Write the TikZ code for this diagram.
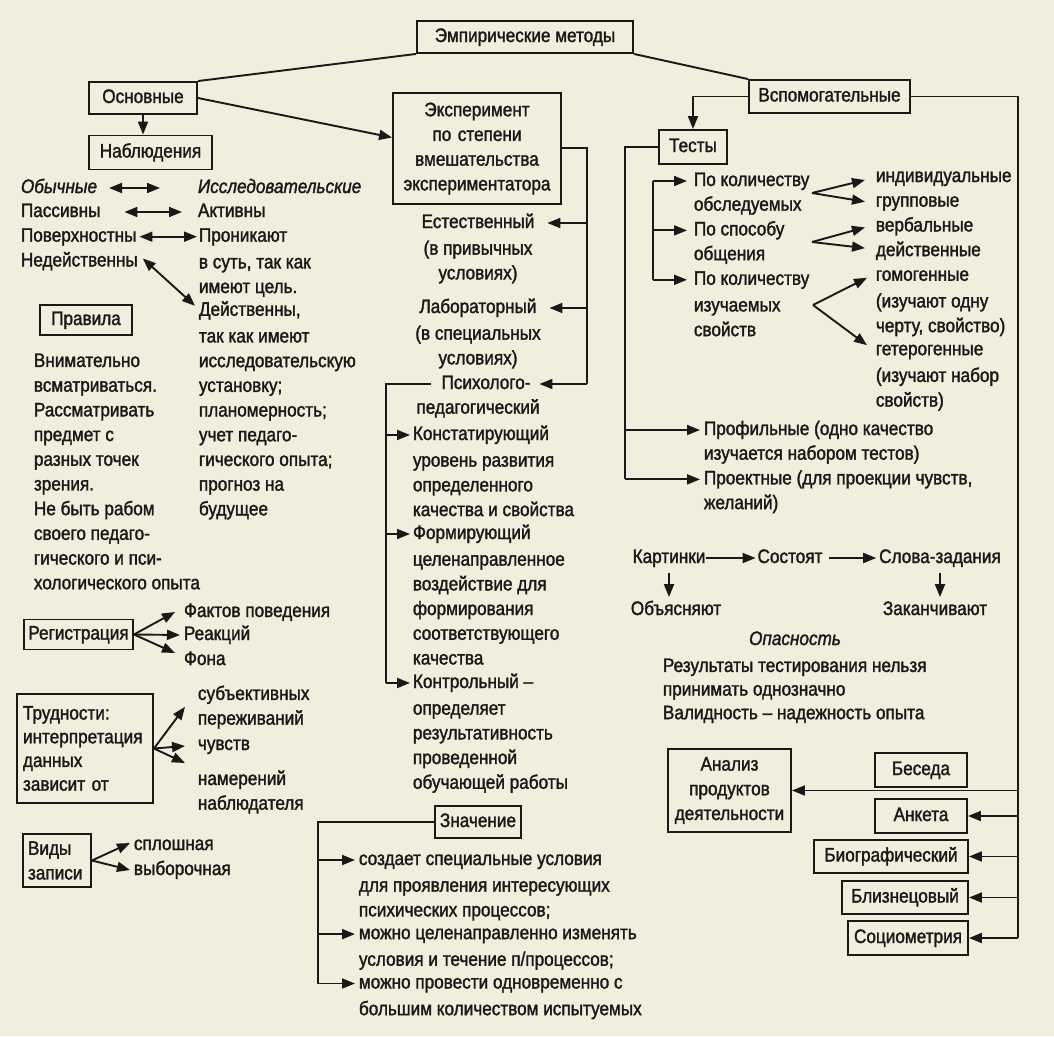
\documentclass[tikz,border=0pt]{standalone}
\usepackage{fontspec}
\setmainfont{Liberation Sans}[FakeStretch=0.88,FakeBold=1.6]
\usetikzlibrary{arrows.meta,calc}
\definecolor{bg}{RGB}{242,238,221}
\definecolor{ink}{RGB}{25,25,25}
\newcommand\st{\rule{0pt}{15pt}}
\newcommand\fs{\fontsize{19.5}{24.7}\selectfont}
\begin{document}
\begin{tikzpicture}[x=1pt,y=-1pt,line width=1.9pt,color=ink,font=\fs,
  lt/.style={inner sep=0pt,text height=14pt,text depth=4pt,anchor=west},
  ct/.style={inner sep=0pt,text height=14pt,text depth=4pt},
  blk/.style={inner sep=0pt,align=left,anchor=north west},
  cblk/.style={inner sep=0pt,align=center,anchor=north},
  box/.style={draw,inner sep=0pt,text height=14pt,text depth=4pt},
  mbox/.style={draw,inner sep=0pt},
  arr/.style={-{Triangle[length=13pt,width=10pt]}},
  darr/.style={{Triangle[length=13pt,width=10pt]}-{Triangle[length=13pt,width=10pt]}}]
\fill[bg] (0,0) rectangle (1054,1036);
\useasboundingbox (0,0) rectangle (1054,1036);

% boxes
\node[box,minimum width=216pt,minimum height=32pt] (emp) at (525,37) {Эмпирические методы};
\node[box,minimum width=108pt,minimum height=32pt] (osn) at (143,98) {Основные};
\node[box,minimum width=123pt,minimum height=34pt] (nabl) at (150.5,152.5) {Наблюдения};
\node[mbox,align=center,text width=160pt,minimum width=168pt,minimum height=111pt] (exp) at (477,148.5) {Эксперимент\\по степени\\вмешательства\\экспериментатора};
\node[box,minimum width=161pt,minimum height=33pt] (vsp) at (829.5,96.5) {Вспомогательные};
\node[box,minimum width=68pt,minimum height=34pt] (test) at (693,147) {Тесты};
\node[box,minimum width=92pt,minimum height=30pt] (prav) at (86,320) {Правила};
\node[box,minimum width=109pt,minimum height=30pt] (reg) at (78.5,634.5) {Регистрация};
\node[mbox,align=left,text width=124pt,minimum width=136pt,minimum height=109pt,font=\fontsize{19.5}{23.7}\selectfont] (trud) at (85,748.5) {Трудности:\\интерпретация\\данных\\зависит от};
\node[mbox,align=left,text width=58pt,minimum width=68pt,minimum height=53pt] (vidy) at (57,860.5) {Виды\\записи};
\node[box,minimum width=86pt,minimum height=32pt] (znach) at (478,822) {Значение};
\node[mbox,align=center,text width=115pt,minimum width=123pt,minimum height=83pt] (anal) at (729.5,790.5) {Анализ\\продуктов\\деятельности};
\node[box,minimum width=92pt,minimum height=34pt] (bes) at (921,770) {Беседа};
\node[box,minimum width=92pt,minimum height=34pt] (ank) at (921,816) {Анкета};
\node[box,minimum width=154pt,minimum height=33pt] (bio) at (891,856.5) {Биографический};
\node[box,minimum width=126pt,minimum height=33pt] (bliz) at (905,897.5) {Близнецовый};
\node[box,minimum width=120pt,minimum height=34pt] (soc) at (908,938) {Социометрия};

% observation texts
\node[lt] (obych) at (20,188) {\itshape Обычные};
\node[lt] (issl) at (197,188) {\itshape Исследовательские};
\node[lt] (pas) at (20,212) {Пассивны};
\node[lt] (akt) at (197,212) {Активны};
\node[lt] (pov) at (20,236.7) {Поверхностны};
\node[lt] (pron) at (198,236.7) {Проникают};
\node[lt] (ned) at (20,261.4) {Недейственны};
\node[blk] (vsut) at (198,252.4) {\st в суть, так как\\имеют цель.};
\node[lt] (dst) at (198,310.8) {Действенны,};
\node[blk] (dst2) at (198,326.5) {\st так как имеют\\исследовательскую\\установку;\\планомерность;\\учет педаго-\\гического опыта;\\прогноз на\\будущее};
\node[blk] (rules) at (33,351) {\st Внимательно\\всматриваться.\\Рассматривать\\предмет с\\разных точек\\зрения.\\Не быть рабом\\своего педаго-\\гического и пси-\\хологического опыта};

% experiment texts
\node[ct] (est) at (478,223) {Естественный};
\node[cblk] (est2) at (478,238.7) {\st(в привычных\\условиях)};
\node[ct] (lab) at (478,308) {Лабораторный};
\node[cblk] (lab2) at (478,323.7) {\st(в специальных\\условиях)};
\node[ct] (psy) at (486,384) {Психолого-};
\node[ct] (psy2) at (478,408.7) {педагогический};
\node[lt] (konst) at (412,435) {Констатирующий};
\node[blk] (konst2) at (412,450.7) {\st уровень развития\\определенного\\качества и свойства};
\node[lt] (form) at (412,534) {Формирующий};
\node[blk] (form2) at (412,549.7) {\st целенаправленное\\воздействие для\\формирования\\соответствующего\\качества};
\node[lt] (kontr) at (412,683) {Контрольный –};
\node[blk] (kontr2) at (412,698.7) {\st определяет\\результативность\\проведенной\\обучающей работы};

% tests texts
\node[lt] (pk1) at (693,181) {По количеству};
\node[lt] (pk1b) at (693,205.7) {обследуемых};
\node[lt] (ps) at (693,230.4) {По способу};
\node[lt] (psb) at (693,255.1) {общения};
\node[lt] (pk2) at (693,279.8) {По количеству};
\node[blk] (pk2b) at (693,295.5) {\st изучаемых\\свойств};
\node[lt] (ind) at (875,177) {индивидуальные};
\node[lt] (grp) at (875,201.7) {групповые};
\node[lt] (verb) at (875,226.4) {вербальные};
\node[lt] (deys) at (875,251.1) {действенные};
\node[lt] (gom) at (875,275.8) {гомогенные};
\node[blk] (gom2) at (875,291.5) {\st(изучают одну\\черту, свойство)};
\node[lt] (get) at (875,350.2) {гетерогенные};
\node[blk] (get2) at (875,365.9) {\st(изучают набор\\свойств)};
\node[lt] (prof) at (703,430) {Профильные (одно качество};
\node[lt] (prof2) at (703,454.7) {изучается набором тестов)};
\node[lt] (proj) at (703,479.4) {Проектные (для проекции чувств,};
\node[lt] (proj2) at (703,504.1) {желаний)};

\node[ct] (kart) at (669,558) {Картинки};
\node[ct] (sost) at (790,558) {Состоят};
\node[ct] (slova) at (940,558) {Слова-задания};
\node[ct] (obj) at (676,610) {Объясняют};
\node[ct] (zak) at (935,610) {Заканчивают};
\node[ct] (opas) at (795,640) {\itshape Опасность};
\node[blk,font=\fontsize{19.5}{23.6}\selectfont] (res) at (662,656) {\st Результаты тестирования нельзя\\принимать однозначно\\Валидность – надежность опыта};

% left lower texts
\node[lt] (fakt) at (183,612) {Фактов поведения};
\node[lt] (reak) at (183,635) {Реакций};
\node[lt] (fona) at (183,660) {Фона};
\node[blk] (subj) at (197,684) {\st субъективных\\переживаний};
\node[lt] (chuv) at (197,745) {чувств};
\node[blk] (nam) at (197,769) {\st намерений\\наблюдателя};
\node[lt] (spl) at (133,845) {сплошная};
\node[lt] (vyb) at (133,870) {выборочная};

% znachenie texts
\node[lt] (z1) at (358,860) {создает специальные условия};
\node[blk] (z1b) at (358,875.7) {\st для проявления интересующих\\психических процессов;};
\node[lt] (z2) at (358,934.1) {можно целенаправленно изменять};
\node[blk] (z2b) at (358,949.8) {\st условия и течение п/процессов;};
\node[lt] (z3) at (358,983.5) {можно провести одновременно с};
\node[blk] (z3b) at (358,999.2) {\st большим количеством испытуемых};

% connectors top
\draw (emp.south west) -- (osn.north east);
\draw (emp.south east) -- (vsp.north west);
\draw[arr] (osn.south) -- (osn.south |- nabl.north);
\draw[arr] (osn.east) -- ($(exp.west)+(0,-11)$);

% experiment bracket
\coordinate (eb1) at (587,148);
\coordinate (eb2) at (587,384);
\draw (exp.east |- eb1) -- (eb1) -- (eb2);
\draw[arr,shorten >=12pt] (eb1 |- est) -- (est.east);
\draw[arr,shorten >=12pt] (eb1 |- lab) -- (lab.east);
\draw[arr,shorten >=8pt] (eb2) -- (psy.east);

% psycho-pedagogical bracket
\coordinate (pb1) at (386,384);
\coordinate (pb2) at (386,683);
\draw ($(psy.west)+(-10,0)$) -- (pb1) -- (pb2);
\draw[arr,shorten >=2pt] (pb1 |- konst) -- (konst.west);
\draw[arr,shorten >=2pt] (pb1 |- form) -- (form.west);
\draw[arr,shorten >=2pt] (pb2) -- (kontr.west);

% auxiliary
\draw[arr] (vsp.west) -| (test.north);
\coordinate (rb) at (1018,938);
\draw (vsp.east) -| (rb);
\draw[arr] (rb |- anal) -- (anal.east);
\draw[arr] (rb |- ank) -- (ank.east);
\draw[arr] (rb |- bio) -- (bio.east);
\draw[arr] (rb |- bliz) -- (bliz.east);
\draw[arr] (rb) -- (soc.east);

% tests bracket
\coordinate (tb1) at (625,147);
\coordinate (tb2) at (625,479.4);
\draw (test.west) -- (tb1) -- (tb2);
\draw[arr,shorten >=3pt] (tb1 |- prof) -- (prof.west);
\draw[arr,shorten >=3pt] (tb2) -- (proj.west);
\coordinate (ib1) at (653,181);
\coordinate (ib2) at (653,279.8);
\draw (ib1) -- (ib2);
\draw[arr,shorten >=6pt] (ib1) -- (pk1.west);
\draw[arr,shorten >=6pt] (ib1 |- ps) -- (ps.west);
\draw[arr,shorten >=6pt] (ib2) -- (pk2.west);

% forks
\coordinate (f1) at (812,193);
\draw[arr] (f1) -- ($(ind.west)+(-10,3)$);
\draw[arr] (f1) -- ($(grp.west)+(-10,0)$);
\coordinate (f2) at (812,242);
\draw[arr] (f2) -- ($(verb.west)+(-10,1)$);
\draw[arr] (f2) -- ($(deys.west)+(-10,-3)$);
\coordinate (f3) at (813,305);
\draw[arr] (f3) -- ($(gom.west)+(-8,2)$);
\draw[arr] (f3) -- ($(get.west)+(-8,-5)$);

% pictures test
\draw[arr,shorten >=1pt] (kart.east) -- (sost.west);
\draw[arr,shorten <=6pt,shorten >=2pt] (sost.east) -- (slova.west);
\draw[arr,shorten <=5pt,shorten >=3pt] (kart.south) -- (kart.south |- obj.north);
\draw[arr,shorten <=5pt,shorten >=3pt] (slova.south) -- (slova.south |- zak.north);

% observation arrows
\draw[darr,shorten <=11pt,shorten >=37pt] (obych.east) -- (issl.west);
\draw[darr,shorten <=23pt,shorten >=15pt] (pas.east) -- (akt.west);
\draw[darr,shorten <=2pt,shorten >=1pt] (pov.east) -- (pron.west);
\draw[darr] ($(ned.east)+(4,-3)$) -- ($(dst.west)+(-3,-5)$);

% registration
\draw[arr] (reg.east) -- ($(fakt.west)+(-8,0)$);
\draw[arr,shorten >=3pt] (reg.east) -- (reak.west);
\draw[arr] (reg.east) -- ($(fona.west)+(-8,-7)$);

% difficulties
\draw[arr] (trud.east) -- ($(subj.west)+(-12,0)$);
\draw[arr,shorten >=12pt] (trud.east) -- (chuv.west);
\draw[arr] (trud.east) -- ($(nam.north west)+(-12,-6)$);

% kinds of record
\draw[arr] (vidy.east) -- ($(spl.west)+(-3,-2)$);
\draw[arr] (vidy.east) -- ($(vyb.west)+(-3,0)$);

% meaning bracket
\coordinate (zb1) at (318,822);
\coordinate (zb2) at (318,983.5);
\draw (znach.west) -- (zb1) -- (zb2);
\draw[arr,shorten >=3pt] (zb1 |- z1) -- (z1.west);
\draw[arr,shorten >=3pt] (zb1 |- z2) -- (z2.west);
\draw[arr,shorten >=3pt] (zb2) -- (z3.west);
\end{tikzpicture}
\end{document}
